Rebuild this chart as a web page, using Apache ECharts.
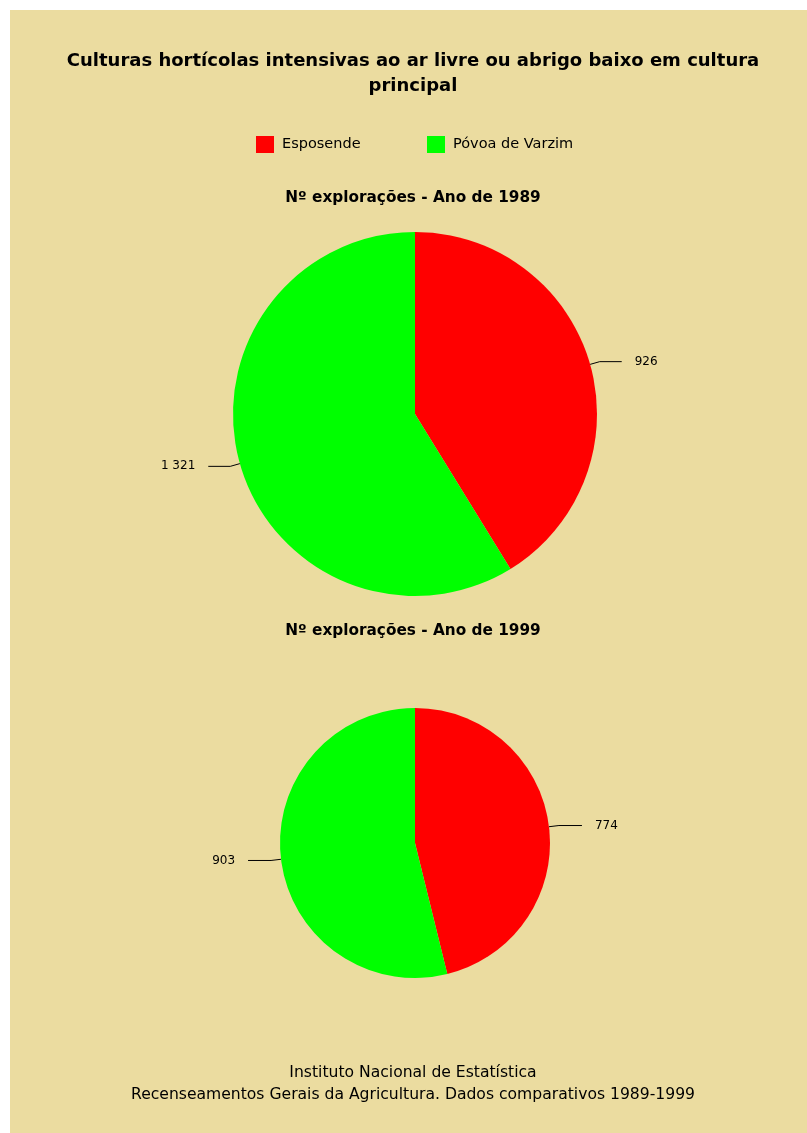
<!DOCTYPE html>
<html>
<head>
<meta charset="utf-8">
<script src="https://cdn.jsdelivr.net/npm/echarts@6/dist/echarts.min.js"></script>
<style>
  html, body { margin: 0; padding: 0; background: #ffffff; }
  #chart { width: 807px; height: 1133px; }
</style>
</head>
<body>
<div id="chart"></div>
<script>
// Municipalities (legend / slice names)
const municipalities = ['Esposende', 'Póvoa de Varzim'];
// Number of holdings per municipality
const holdings1989 = [926, 1321];
const holdings1999 = [774, 903];
const sliceColors = ['#ff0000', '#00ff00'];

const mainTitle = 'Culturas hortícolas intensivas ao ar livre ou abrigo baixo em cultura\nprincipal';
const pieTitles = ['Nº explorações - Ano de 1989', 'Nº explorações - Ano de 1999'];
const sourceLines = 'Instituto Nacional de Estatística\nRecenseamentos Gerais da Agricultura. Dados comparativos 1989-1999';

const FONT = '"DejaVu Sans", Verdana, sans-serif';

function fmt(v) {
  return String(v).replace(/\B(?=(\d{3})+(?!\d))/g, ' ');
}

function pieData(values) {
  return municipalities.map((name, i) => ({
    name: name,
    value: values[i],
    itemStyle: { color: sliceColors[i] }
  }));
}

function pieSeries(values, center, radius, len2) {
  return {
    type: 'pie',
    center: center,
    radius: radius,
    startAngle: 90,
    clockwise: true,
    silent: true,
    animation: false,
    data: pieData(values),
    label: {
      show: true,
      color: '#000',
      fontFamily: FONT,
      fontSize: 12,
      formatter: p => fmt(p.value),
      distanceToLabelLine: 13
    },
    labelLine: {
      show: true,
      length: 10,
      length2: len2,
      lineStyle: { color: '#000', width: 1 }
    },
    emphasis: { disabled: true }
  };
}

const chart = echarts.init(document.getElementById('chart'), null, { renderer: 'canvas' });

const legendText = { fontFamily: FONT, fontSize: 14.5, color: '#000', padding: [0, 0, 0, 3] };

chart.setOption({
  backgroundColor: 'transparent',
  animation: false,
  graphic: [{
    type: 'rect',
    z: -10,
    shape: { x: 10, y: 10, width: 797, height: 1123 },
    style: { fill: '#ebdca0' },
    silent: true
  }],
  title: [
    {
      text: mainTitle,
      left: 408, top: 44, textAlign: 'center',
      textStyle: { fontFamily: FONT, fontSize: 18, fontWeight: 'bold', color: '#000', lineHeight: 25 }
    },
    {
      text: pieTitles[0],
      left: 408, top: 186, textAlign: 'center',
      textStyle: { fontFamily: FONT, fontSize: 15.3, fontWeight: 'bold', color: '#000' }
    },
    {
      text: pieTitles[1],
      left: 408, top: 619, textAlign: 'center',
      textStyle: { fontFamily: FONT, fontSize: 15.3, fontWeight: 'bold', color: '#000' }
    },
    {
      text: sourceLines,
      left: 408, top: 1057, textAlign: 'center',
      textStyle: { fontFamily: FONT, fontSize: 15.6, fontWeight: 'normal', color: '#000', lineHeight: 22 }
    }
  ],
  legend: [
    {
      data: [municipalities[0]],
      left: 251, top: 131,
      itemWidth: 18, itemHeight: 17, itemGap: 8,
      icon: 'rect', selectedMode: false,
      textStyle: legendText
    },
    {
      data: [municipalities[1]],
      left: 422, top: 131,
      itemWidth: 18, itemHeight: 17, itemGap: 8,
      icon: 'rect', selectedMode: false,
      textStyle: legendText
    }
  ],
  series: [
    pieSeries(holdings1989, [415, 414], 182, 22),
    pieSeries(holdings1999, [415, 843], 135, 23)
  ]
});
</script>
</body>
</html>
